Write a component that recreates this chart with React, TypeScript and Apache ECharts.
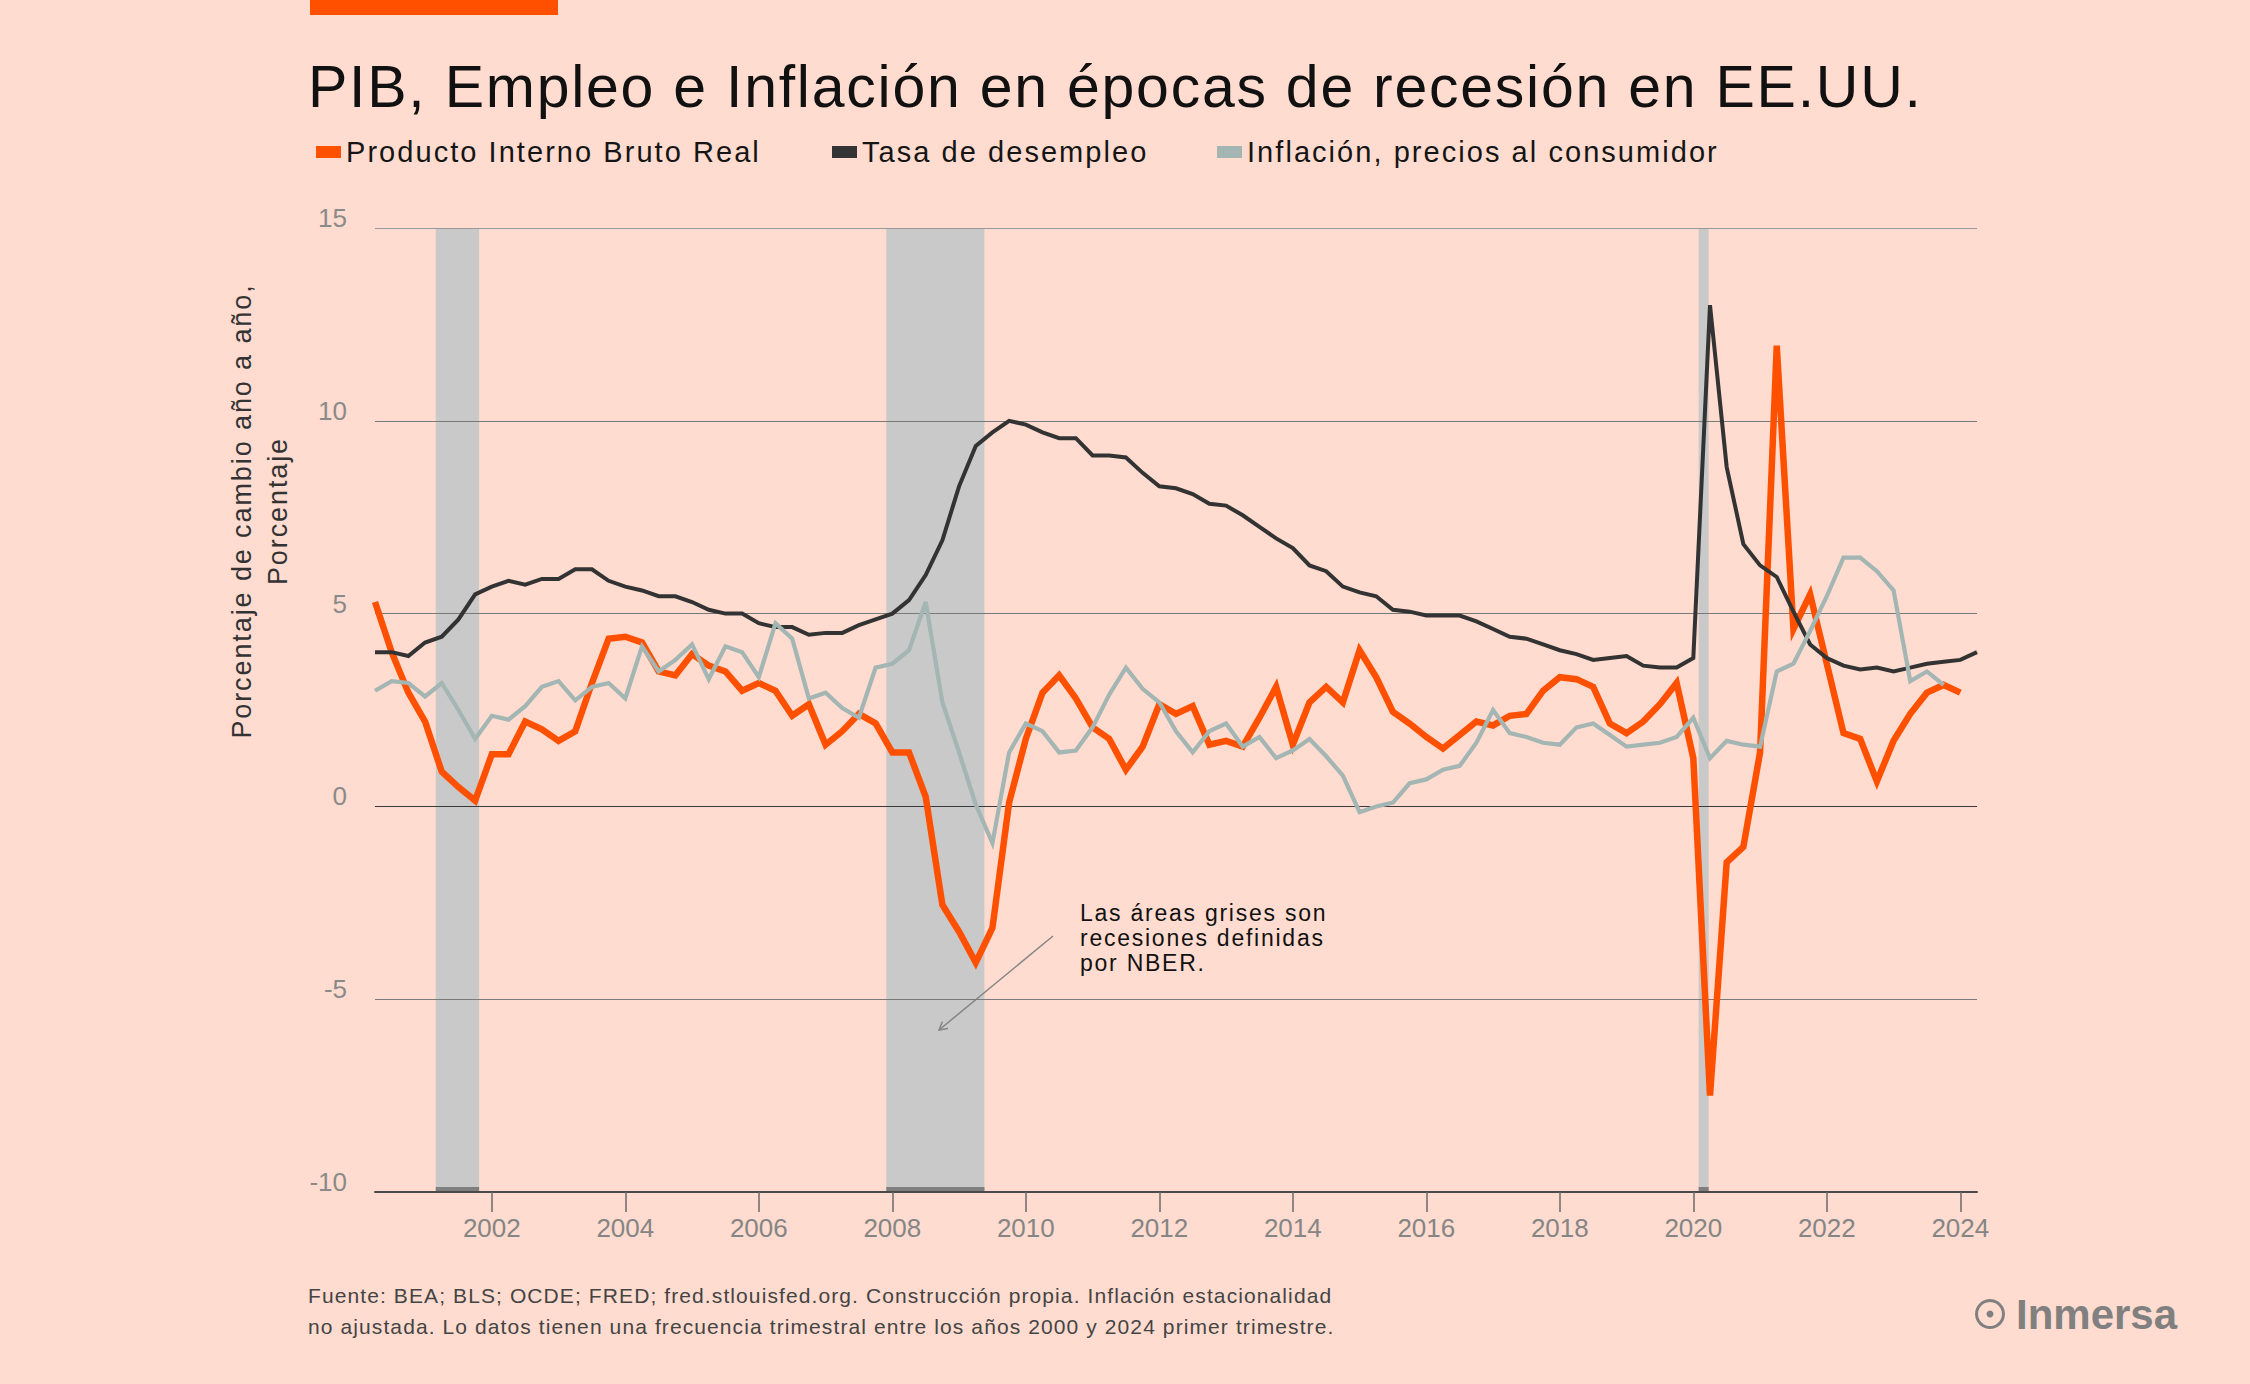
import React, { useEffect, useRef } from 'react';
import * as echarts from 'echarts';

// ---------- Texts ----------
const TITLE = 'PIB, Empleo e Inflación en épocas de recesión en EE.UU.';
const SERIES_NAMES = [
  'Producto Interno Bruto Real',
  'Tasa de desempleo',
  'Inflación, precios al consumidor',
];
const Y_AXIS_NAME = ['Porcentaje de cambio año a año,', 'Porcentaje'];
const NOTE_LINES = ['Las áreas grises son', 'recesiones definidas', 'por NBER.'];
const FOOTER_LINES = [
  'Fuente: BEA; BLS; OCDE; FRED; fred.stlouisfed.org. Construcción propia. Inflación estacionalidad',
  'no ajustada. Lo datos tienen una frecuencia trimestral entre los años 2000 y 2024 primer trimestre.',
];
const BRAND = 'Inmersa';

// ---------- Axes ----------
const FIRST_QUARTER = 2000.25; // first plotted quarter (decimal year)
const QUARTER_STEP = 0.25;
const X_MIN = 2000.25;
const X_MAX = 2024.25;
const Y_MIN = -10;
const Y_MAX = 15;
const Y_STEP = 5;
const YEAR_TICKS = [2002, 2004, 2006, 2008, 2010, 2012, 2014, 2016, 2018, 2020, 2022, 2024];

// ---------- Data (quarterly, from 2000 T2) ----------
const GDP = [
  5.3, 4.0, 2.95, 2.2, 0.9, 0.5, 0.15, 1.35, 1.35, 2.2,
  2.0, 1.7, 1.95, 3.2, 4.35, 4.4, 4.25, 3.5, 3.4, 3.95,
  3.65, 3.5, 3.0, 3.2, 3.0, 2.35, 2.65, 1.6, 1.95, 2.4,
  2.15, 1.4, 1.4, 0.25, -2.55, -3.25, -4.05, -3.15, 0.1, 1.75,
  2.95, 3.4, 2.8, 2.05, 1.75, 0.95, 1.55, 2.65, 2.4, 2.6,
  1.6, 1.7, 1.55, 2.3, 3.1, 1.6, 2.7, 3.1, 2.7, 4.05,
  3.35, 2.45, 2.15, 1.8, 1.5, 1.85, 2.2, 2.1, 2.35, 2.4,
  3.0, 3.35, 3.3, 3.1, 2.15, 1.9, 2.2, 2.65, 3.2, 1.25,
  -7.5, -1.45, -1.05, 1.4, 11.95, 4.6, 5.5, 3.7, 1.9, 1.75,
  0.65, 1.7, 2.4, 2.95, 3.15, 2.95,
];
const UNEMPLOYMENT = [
  4.0, 4.0, 3.9, 4.25, 4.4, 4.85, 5.5, 5.7, 5.85, 5.75,
  5.9, 5.9, 6.15, 6.15, 5.85, 5.7, 5.6, 5.45, 5.45, 5.3,
  5.1, 5.0, 5.0, 4.75, 4.65, 4.65, 4.45, 4.5, 4.5, 4.7,
  4.85, 5.0, 5.35, 6.0, 6.9, 8.3, 9.35, 9.7, 10.0, 9.9,
  9.7, 9.55, 9.55, 9.1, 9.1, 9.05, 8.65, 8.3, 8.25, 8.1,
  7.85, 7.8, 7.55, 7.25, 6.95, 6.7, 6.25, 6.1, 5.7, 5.55,
  5.45, 5.1, 5.05, 4.95, 4.95, 4.95, 4.8, 4.6, 4.4, 4.35,
  4.2, 4.05, 3.95, 3.8, 3.85, 3.9, 3.65, 3.6, 3.6, 3.85,
  13.0, 8.8, 6.8, 6.25, 5.95, 5.05, 4.2, 3.85, 3.65, 3.55,
  3.6, 3.5, 3.6, 3.7, 3.75, 3.8, 4.0,
];
const INFLATION = [
  3.0, 3.25, 3.2, 2.85, 3.2, 2.5, 1.75, 2.35, 2.25, 2.6,
  3.1, 3.25, 2.75, 3.1, 3.2, 2.8, 4.15, 3.5, 3.8, 4.2,
  3.3, 4.15, 4.0, 3.35, 4.75, 4.35, 2.8, 2.95, 2.55, 2.3,
  3.6, 3.7, 4.05, 5.3, 2.7, 1.4, 0.05, -0.95, 1.4, 2.15,
  1.95, 1.4, 1.45, 2.05, 2.9, 3.6, 3.05, 2.7, 1.95, 1.4,
  1.95, 2.15, 1.55, 1.8, 1.25, 1.45, 1.75, 1.3, 0.8, -0.15,
  0.0, 0.1, 0.6, 0.7, 0.95, 1.05, 1.65, 2.5, 1.9, 1.8,
  1.65, 1.6, 2.05, 2.15, 1.85, 1.55, 1.6, 1.65, 1.8, 2.3,
  1.25, 1.7, 1.6, 1.55, 3.5, 3.7, 4.55, 5.45, 6.45, 6.45,
  6.1, 5.6, 3.25, 3.5, 3.15,
];
// NBER recessions (decimal years: start, end)
const RECESSIONS = [
  [2001.16, 2001.81],
  [2007.91, 2009.38],
  [2020.08, 2020.23],
];

// ---------- Style ----------
const FONT = "'Liberation Sans', Arial, Helvetica, sans-serif";
const BG = '#ffdccf';
const ORANGE = '#ff5000';
const DARK = '#333333';
const GREY_LINE = '#a3b6b3';
const COLORS = [ORANGE, DARK, GREY_LINE];
const LINE_WIDTHS = [6.5, 4, 4.2];
const LEGEND_LEFTS = [316, 832, 1217];

const SPACED: Record<string, number> = {};
SPACED[TITLE] = 1.75;
SERIES_NAMES.forEach((n) => (SPACED[n] = 2.05));
Y_AXIS_NAME.forEach((n) => (SPACED[n] = 1.9));
NOTE_LINES.forEach((n) => (SPACED[n] = 1.75));
FOOTER_LINES.forEach((n) => (SPACED[n] = 1.1));

function applyLetterSpacing(root: HTMLElement) {
  root.querySelectorAll('text').forEach((t) => {
    const s = (t.textContent || '').trim();
    const ls = SPACED[s];
    if (ls) (t as any).style.letterSpacing = ls + 'px';
  });
}

const quarterX = (i: number) => FIRST_QUARTER + i * QUARTER_STEP;
const toPoints = (arr: number[]) => arr.map((v, i) => [quarterX(i), v]);
const SERIES_DATA = [GDP, UNEMPLOYMENT, INFLATION];

function buildOption(): any {
  const lineSeries = SERIES_NAMES.map((name, i) => ({
    type: 'line',
    name,
    data: toPoints(SERIES_DATA[i]),
    showSymbol: false,
    symbol: 'none',
    z: 3 + i,
    lineStyle: { width: LINE_WIDTHS[i], color: COLORS[i], join: 'miter' },
    itemStyle: { color: COLORS[i] },
    emphasis: { disabled: true },
  }));

  const bandSeries = {
    type: 'custom',
    name: 'recesiones',
    silent: true,
    z: -1,
    data: RECESSIONS,
    renderItem: (params: any, api: any) => {
      const s = api.value(0);
      const e = api.value(1);
      const p1 = api.coord([s, Y_MAX]);
      const p2 = api.coord([e, Y_MIN]);
      const w = p2[0] - p1[0];
      return {
        type: 'group',
        children: [
          {
            type: 'rect',
            shape: { x: p1[0], y: p1[1], width: w, height: p2[1] - p1[1] },
            style: { fill: '#c9c9c9' },
          },
          {
            type: 'rect',
            shape: { x: p1[0], y: p2[1] - 5, width: w, height: 5 },
            style: { fill: '#7f7f7f' },
          },
        ],
      };
    },
  };

  const legends = SERIES_NAMES.map((name, i) => ({
    show: true,
    data: [name],
    left: LEGEND_LEFTS[i],
    top: 137,
    padding: 0,
    icon: 'rect',
    itemWidth: 25,
    itemHeight: 12,
    selectedMode: false,
    textStyle: { fontSize: 29, color: '#151515', fontFamily: FONT, lineHeight: 30 },
  }));

  return {
    animation: false,
    backgroundColor: BG,
    textStyle: { fontFamily: FONT },
    grid: { left: 375, right: 273, top: 228, bottom: 192 },
    legend: legends,
    xAxis: {
      type: 'value',
      min: X_MIN,
      max: X_MAX,
      axisLine: { show: true, onZero: false, lineStyle: { color: '#4a4a4a', width: 2 } },
      axisTick: {
        show: true,
        length: 20,
        customValues: YEAR_TICKS,
        lineStyle: { color: '#6a6a6a', width: 1.5 },
      },
      axisLabel: {
        show: true,
        customValues: YEAR_TICKS,
        fontSize: 26,
        color: '#858585',
        margin: 23,
        fontFamily: FONT,
        formatter: (v: number) => String(Math.round(v)),
      },
      splitLine: { show: false },
    },
    yAxis: {
      type: 'value',
      min: Y_MIN,
      max: Y_MAX,
      interval: Y_STEP,
      axisLine: { show: false },
      axisTick: { show: false },
      axisLabel: {
        fontSize: 26,
        color: '#8a8a8a',
        margin: 28,
        verticalAlign: 'bottom',
        lineHeight: 20,
        fontFamily: FONT,
      },
      splitLine: {
        show: true,
        lineStyle: {
          color: ['#555555', '#7a7a7a', '#3a3a3a', '#7a7a7a', '#7a7a7a', '#9a9a9a'],
          width: 1,
        },
      },
    },
    graphic: [
      { type: 'rect', shape: { x: 310, y: 0, width: 248, height: 15 }, style: { fill: ORANGE } },
      {
        type: 'text',
        x: 308,
        y: 86.5,
        style: {
          text: TITLE,
          fontSize: 59,
          fontFamily: FONT,
          fill: '#111111',
          align: 'left',
          verticalAlign: 'middle',
        },
      },
      {
        type: 'text',
        x: 260,
        y: 511,
        rotation: Math.PI / 2,
        style: {
          text: Y_AXIS_NAME.join('\n'),
          fontSize: 27,
          lineHeight: 36,
          fontFamily: FONT,
          fill: '#333333',
          align: 'center',
          verticalAlign: 'middle',
        },
      },
      {
        type: 'text',
        x: 1080,
        y: 900,
        style: {
          text: NOTE_LINES.join('\n'),
          fontSize: 23,
          lineHeight: 25,
          fontFamily: FONT,
          fill: '#111111',
          align: 'left',
          verticalAlign: 'top',
        },
      },
      {
        type: 'line',
        shape: { x1: 1053, y1: 936, x2: 939, y2: 1030 },
        style: { stroke: '#858585', lineWidth: 1.5 },
      },
      {
        type: 'polyline',
        shape: { points: [[948, 1028.5], [939, 1030], [942.4, 1021.6]] },
        style: { stroke: '#858585', lineWidth: 1.5, fill: null },
      },
      {
        type: 'text',
        x: 308,
        y: 1280,
        style: {
          text: FOOTER_LINES.join('\n'),
          fontSize: 21,
          lineHeight: 31,
          fontFamily: FONT,
          fill: '#444444',
          align: 'left',
          verticalAlign: 'top',
        },
      },
      {
        type: 'ring',
        shape: { cx: 1990, cy: 1314, r: 15, r0: 12 },
        style: { fill: '#808080' },
      },
      {
        type: 'circle',
        shape: { cx: 1990, cy: 1314, r: 3.5 },
        style: { fill: '#808080' },
      },
      {
        type: 'text',
        x: 2016,
        y: 1314,
        style: {
          text: BRAND,
          fontSize: 42,
          fontWeight: 'bold',
          fontFamily: FONT,
          fill: '#808080',
          align: 'left',
          verticalAlign: 'middle',
        },
      },
    ],
    series: [bandSeries, ...lineSeries],
  };
}

export default function App() {
  const ref = useRef<HTMLDivElement>(null);
  useEffect(() => {
    document.body.style.margin = '0';
    document.body.style.background = BG;
    const el = ref.current as HTMLDivElement;
    const chart = echarts.init(el, null, { renderer: 'svg' });
    chart.setOption(buildOption());
    applyLetterSpacing(el);
    chart.on('finished', () => applyLetterSpacing(el));
    const t = setTimeout(() => applyLetterSpacing(el), 30);
    return () => {
      clearTimeout(t);
      chart.dispose();
    };
  }, []);
  return (
    <div
      ref={ref}
      style={{ position: 'absolute', left: 0, top: 0, width: 2250, height: 1384, background: BG }}
    />
  );
}
